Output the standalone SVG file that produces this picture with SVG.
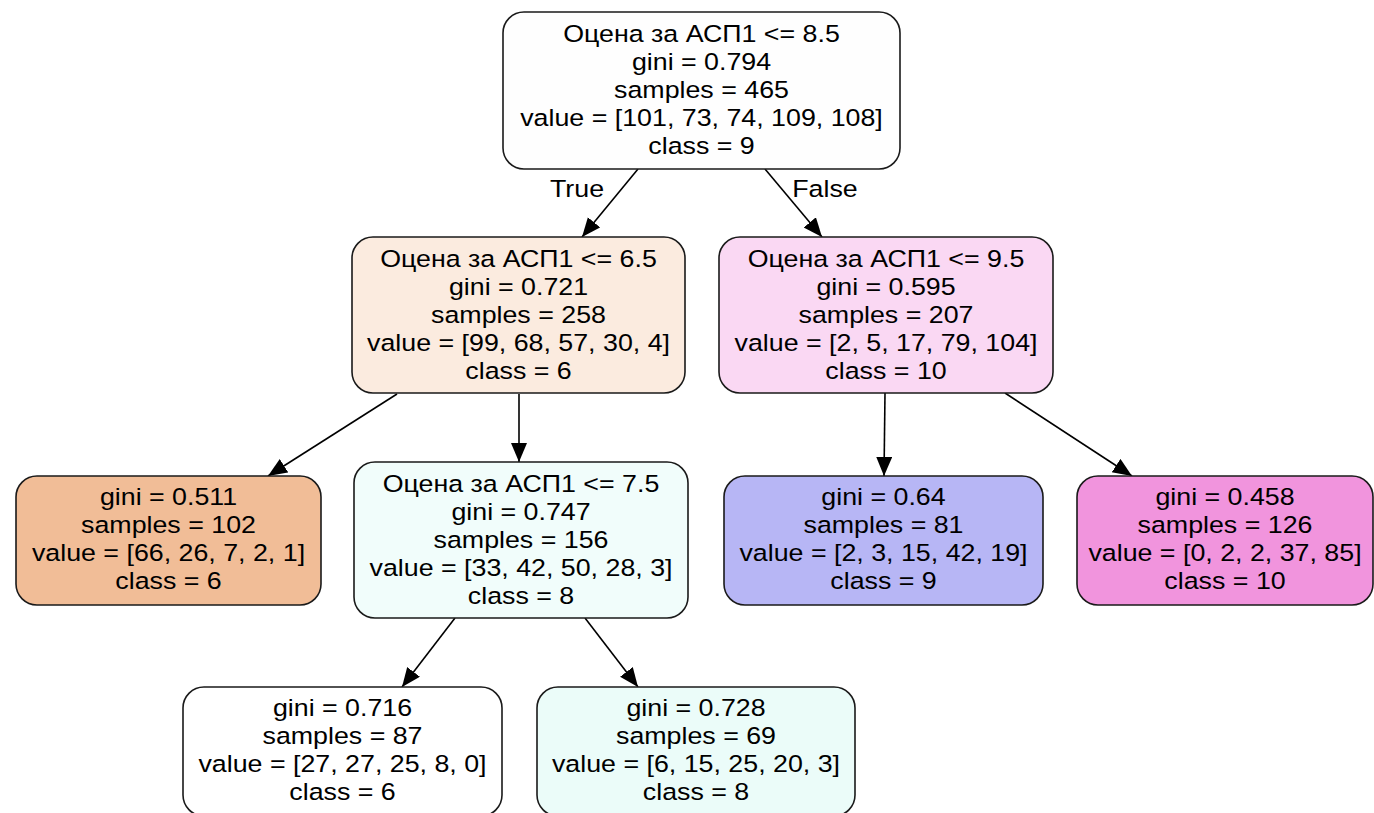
<svg xmlns="http://www.w3.org/2000/svg" width="1374" height="813" viewBox="0 0 1374 813">
<style>
.box{stroke:#1a1a1a;stroke-width:1.6}
.t{font-family:"Liberation Sans",Arial,sans-serif;font-size:23.5px;fill:#000;text-anchor:middle}
.e{stroke:#000;stroke-width:1.6;fill:none}
</style>
<defs>
<marker id="ah" markerUnits="userSpaceOnUse" markerWidth="20" markerHeight="18" refX="19" refY="8" orient="auto">
<path d="M0,0 L19,8 L0,16 z" fill="#000"/>
</marker>
</defs>
<rect width="1374" height="813" fill="#fff"/>
<g id="edges">
<line class="e" x1="638" y1="169" x2="582" y2="237" marker-end="url(#ah)"/>
<line class="e" x1="765" y1="169" x2="822" y2="237" marker-end="url(#ah)"/>
<line class="e" x1="397" y1="394" x2="268" y2="476" marker-end="url(#ah)"/>
<line class="e" x1="519" y1="394" x2="519" y2="462" marker-end="url(#ah)"/>
<line class="e" x1="885" y1="393" x2="884" y2="476" marker-end="url(#ah)"/>
<line class="e" x1="1005" y1="393" x2="1132" y2="476" marker-end="url(#ah)"/>
<line class="e" x1="455" y1="618" x2="402" y2="687" marker-end="url(#ah)"/>
<line class="e" x1="585" y1="618" x2="638" y2="687" marker-end="url(#ah)"/>
<text class="t" transform="translate(577,197) scale(1.14,1)">True</text>
<text class="t" transform="translate(825,197) scale(1.14,1)">False</text>
</g>
<g id="n0">
<rect class="box" x="503" y="12" width="397" height="157" rx="21" fill="#fefefe"/>
<text class="t" transform="translate(701.5,42) scale(1.14,1)">Оцена за АСП1 &lt;= 8.5</text>
<text class="t" transform="translate(701.5,70) scale(1.14,1)">gini = 0.794</text>
<text class="t" transform="translate(701.5,98) scale(1.14,1)">samples = 465</text>
<text class="t" transform="translate(701.5,126) scale(1.14,1)">value = [101, 73, 74, 109, 108]</text>
<text class="t" transform="translate(701.5,154) scale(1.14,1)">class = 9</text>
</g>
<g id="n1">
<rect class="box" x="352" y="237" width="333" height="156" rx="21" fill="#fbebdf"/>
<text class="t" transform="translate(518.5,267) scale(1.14,1)">Оцена за АСП1 &lt;= 6.5</text>
<text class="t" transform="translate(518.5,295) scale(1.14,1)">gini = 0.721</text>
<text class="t" transform="translate(518.5,323) scale(1.14,1)">samples = 258</text>
<text class="t" transform="translate(518.5,351) scale(1.14,1)">value = [99, 68, 57, 30, 4]</text>
<text class="t" transform="translate(518.5,379) scale(1.14,1)">class = 6</text>
</g>
<g id="n2">
<rect class="box" x="719" y="237" width="334" height="156" rx="21" fill="#fad8f3"/>
<text class="t" transform="translate(886,267) scale(1.14,1)">Оцена за АСП1 &lt;= 9.5</text>
<text class="t" transform="translate(886,295) scale(1.14,1)">gini = 0.595</text>
<text class="t" transform="translate(886,323) scale(1.14,1)">samples = 207</text>
<text class="t" transform="translate(886,351) scale(1.14,1)">value = [2, 5, 17, 79, 104]</text>
<text class="t" transform="translate(886,379) scale(1.14,1)">class = 10</text>
</g>
<g id="n3">
<rect class="box" x="16" y="476" width="305" height="129" rx="21" fill="#f1bd97"/>
<text class="t" transform="translate(168.5,505) scale(1.14,1)">gini = 0.511</text>
<text class="t" transform="translate(168.5,533) scale(1.14,1)">samples = 102</text>
<text class="t" transform="translate(168.5,561) scale(1.14,1)">value = [66, 26, 7, 2, 1]</text>
<text class="t" transform="translate(168.5,589) scale(1.14,1)">class = 6</text>
</g>
<g id="n4">
<rect class="box" x="354" y="462" width="334" height="156" rx="21" fill="#f1fdfb"/>
<text class="t" transform="translate(521,492) scale(1.14,1)">Оцена за АСП1 &lt;= 7.5</text>
<text class="t" transform="translate(521,520) scale(1.14,1)">gini = 0.747</text>
<text class="t" transform="translate(521,548) scale(1.14,1)">samples = 156</text>
<text class="t" transform="translate(521,576) scale(1.14,1)">value = [33, 42, 50, 28, 3]</text>
<text class="t" transform="translate(521,604) scale(1.14,1)">class = 8</text>
</g>
<g id="n5">
<rect class="box" x="724" y="476" width="319" height="129" rx="21" fill="#b7b6f5"/>
<text class="t" transform="translate(883.5,505) scale(1.14,1)">gini = 0.64</text>
<text class="t" transform="translate(883.5,533) scale(1.14,1)">samples = 81</text>
<text class="t" transform="translate(883.5,561) scale(1.14,1)">value = [2, 3, 15, 42, 19]</text>
<text class="t" transform="translate(883.5,589) scale(1.14,1)">class = 9</text>
</g>
<g id="n6">
<rect class="box" x="1077" y="476" width="296" height="129" rx="21" fill="#f194dd"/>
<text class="t" transform="translate(1225,505) scale(1.14,1)">gini = 0.458</text>
<text class="t" transform="translate(1225,533) scale(1.14,1)">samples = 126</text>
<text class="t" transform="translate(1225,561) scale(1.14,1)">value = [0, 2, 2, 37, 85]</text>
<text class="t" transform="translate(1225,589) scale(1.14,1)">class = 10</text>
</g>
<g id="n7">
<rect class="box" x="183" y="687" width="319" height="129" rx="21" fill="#ffffff"/>
<text class="t" transform="translate(342.5,716) scale(1.14,1)">gini = 0.716</text>
<text class="t" transform="translate(342.5,744) scale(1.14,1)">samples = 87</text>
<text class="t" transform="translate(342.5,772) scale(1.14,1)">value = [27, 27, 25, 8, 0]</text>
<text class="t" transform="translate(342.5,800) scale(1.14,1)">class = 6</text>
</g>
<g id="n8">
<rect class="box" x="537" y="687" width="318" height="129" rx="21" fill="#ebfcf9"/>
<text class="t" transform="translate(696,716) scale(1.14,1)">gini = 0.728</text>
<text class="t" transform="translate(696,744) scale(1.14,1)">samples = 69</text>
<text class="t" transform="translate(696,772) scale(1.14,1)">value = [6, 15, 25, 20, 3]</text>
<text class="t" transform="translate(696,800) scale(1.14,1)">class = 8</text>
</g>
</svg>
